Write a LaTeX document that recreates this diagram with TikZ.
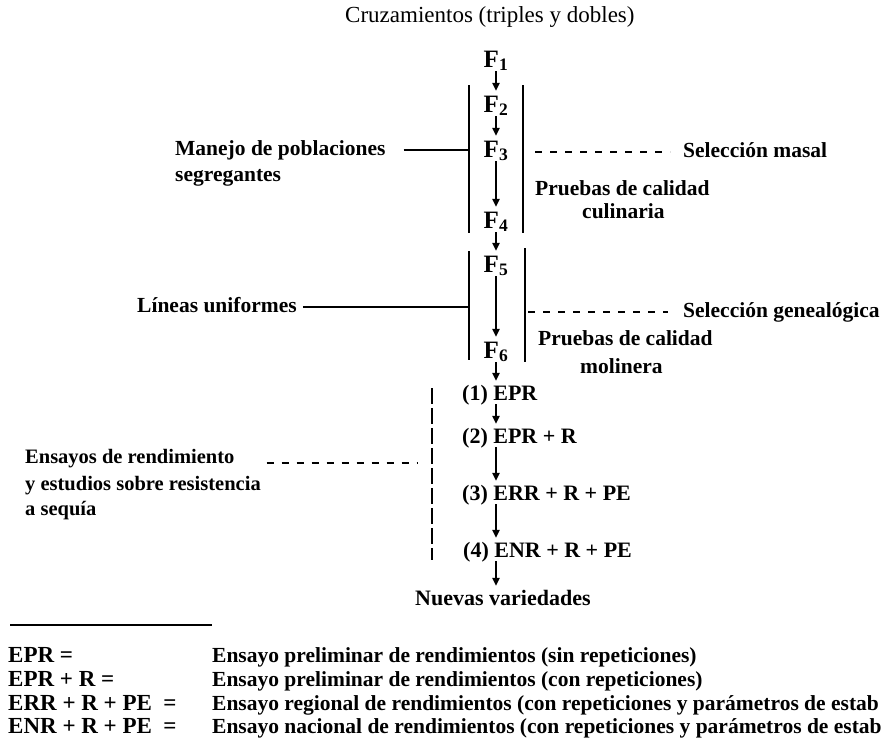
\documentclass[tikz,border=0pt]{standalone}
\usepackage{fontspec}
\setmainfont{Liberation Serif}
\usetikzlibrary{arrows.meta}
\begin{document}
\begin{tikzpicture}[x=1pt,y=-1pt,
  txt/.style={font=\fontsize{21.5}{24}\selectfont\bfseries, inner sep=0pt, text height=14pt, text depth=4pt, anchor=base west},
  txtb/.style={txt, font=\fontsize{20.5}{24}\selectfont\bfseries},
  ttl/.style={font=\fontsize{23}{26}\selectfont, inner sep=0pt, anchor=base west},
  fnode/.style={font=\fontsize{25}{28}\selectfont\bfseries, inner sep=0pt, text height=16pt, text depth=1pt, anchor=base},
  enode/.style={txt, font=\fontsize{22}{24}\selectfont\bfseries, text height=14pt, text depth=1pt},
  legk/.style={font=\fontsize{23}{24}\selectfont\bfseries, inner sep=0pt, anchor=base west},
  legd/.style={font=\fontsize{21.5}{24}\selectfont\bfseries, inner sep=0pt, anchor=base west},
  arr/.style={-{Triangle[length=8pt,width=7.5pt]}, line width=1.3pt, shorten <=3pt, shorten >=5pt},
  barline/.style={line width=2pt},
  dsh/.style={line width=1.8pt, dash pattern=on 7pt off 8pt},
  vdsh/.style={line width=1.8pt, dash pattern=on 16pt off 4pt}]
\useasboundingbox (0,0) rectangle (884,747);
% title
\node[ttl] (title) at (345,22) {Cruzamientos (triples y dobles)};
% generations
\node[fnode] (F1) at (496,67) {F\textsubscript{1}};
\node[fnode] (F2) at (496,112) {F\textsubscript{2}};
\node[fnode] (F3) at (496,157) {F\textsubscript{3}};
\node[fnode] (F4) at (496,228) {F\textsubscript{4}};
\node[fnode] (F5) at (496,272) {F\textsubscript{5}};
\node[fnode] (F6) at (496,358) {F\textsubscript{6}};
\draw[arr] (F1) -- (F2);
\draw[arr] (F2) -- (F3);
\draw[arr] (F3) -- (F4);
\draw[arr] (F4) -- (F5);
\draw[arr] (F5) -- (F6);
% trials
\node[enode] (E1) at (462,400) {(1) EPR};
\node[enode] (E2) at (462,443) {(2) EPR + R};
\node[enode] (E3) at (462,500) {(3) ERR + R + PE};
\node[enode] (E4) at (463,557) {(4) ENR + R + PE};
\node[enode] (NV) at (415,605) {Nuevas variedades};
\draw[arr] (F6.south) -- (F6.south |- E1.north);
\draw[arr] (F6.south |- E1.south) -- (F6.south |- E2.north);
\draw[arr] (F6.south |- E2.south) -- (F6.south |- E3.north);
\draw[arr] (F6.south |- E3.south) -- (F6.south |- E4.north);
\draw[arr] (F6.south |- E4.south) -- (F6.south |- NV.north);
% bars
\coordinate (b1lt) at (469,85);  \coordinate (b1lb) at (469,233);
\coordinate (b1rt) at (523,85);  \coordinate (b1rb) at (523,233);
\coordinate (b2lt) at (469,251); \coordinate (b2lb) at (469,360);
\coordinate (b2rt) at (525,248); \coordinate (b2rb) at (525,362);
\draw[barline] (b1lt) -- (b1lb);
\draw[barline] (b1rt) -- (b1rb);
\draw[barline] (b2lt) -- (b2lb);
\draw[barline] (b2rt) -- (b2rb);
% left labels
\node[txt] (man1) at (175,155) {Manejo de poblaciones};
\node[txt] (man2) at (175,181) {segregantes};
\draw[barline, shorten <=18pt] (man1.east) -- (man1.east -| b1lt);
\node[txt] (lin) at (137,312) {Líneas uniformes};
\draw[barline, shorten <=6pt] (lin.east) -- (lin.east -| b2lt);
% right labels
\node[txt] (selm) at (683,157) {Selección masal};
\draw[dsh, shorten <=12pt, shorten >=13pt] (selm.west -| b1rt) -- (selm.west);
\node[txt] (pc1) at (535,195) {Pruebas de calidad};
\node[txt] (pc2) at (582,218) {culinaria};
\node[txt] (selg) at (683,317) {Selección genealógica};
\draw[dsh, shorten <=3pt, shorten >=15pt] (selg.west -| b2rt) -- (selg.west);
\node[txt] (pm1) at (538,345) {Pruebas de calidad};
\node[txt] (pm2) at (580,373) {molinera};
% trials bracket
\coordinate (vdt) at (432,388); \coordinate (vdb) at (432,560);
\draw[vdsh] (vdt) -- (vdb);
\node[txtb] (ens1) at (25,463) {Ensayos de rendimiento};
\node[txtb] (ens2) at (25,490) {y estudios sobre resistencia};
\node[txtb] (ens3) at (25,515) {a sequía};
\draw[dsh, shorten <=32pt, shorten >=14pt] (ens1.base east) -- (ens1.base east -| vdt);
% legend
\coordinate (sepa) at (10,625); \coordinate (sepb) at (212,625);
\draw[barline] (sepa) -- (sepb);
\node[legk] (k1) at (8,662) {EPR =};
\node[legk] (k2) at (8,686) {EPR + R =};
\node[legk] (k3) at (8,710) {ERR + R + PE\ \ =};
\node[legk] (k4) at (8,733) {ENR + R + PE\ \ =};
\node[legd] (d1) at (212,662) {Ensayo preliminar de rendimientos (sin repeticiones)};
\node[legd] (d2) at (212,686) {Ensayo preliminar de rendimientos (con repeticiones)};
\node[legd] (d3) at (212,710) {Ensayo regional de rendimientos (con repeticiones y parámetros de estab};
\node[legd] (d4) at (212,733) {Ensayo nacional de rendimientos (con repeticiones y parámetros de estab};
\end{tikzpicture}
\end{document}
